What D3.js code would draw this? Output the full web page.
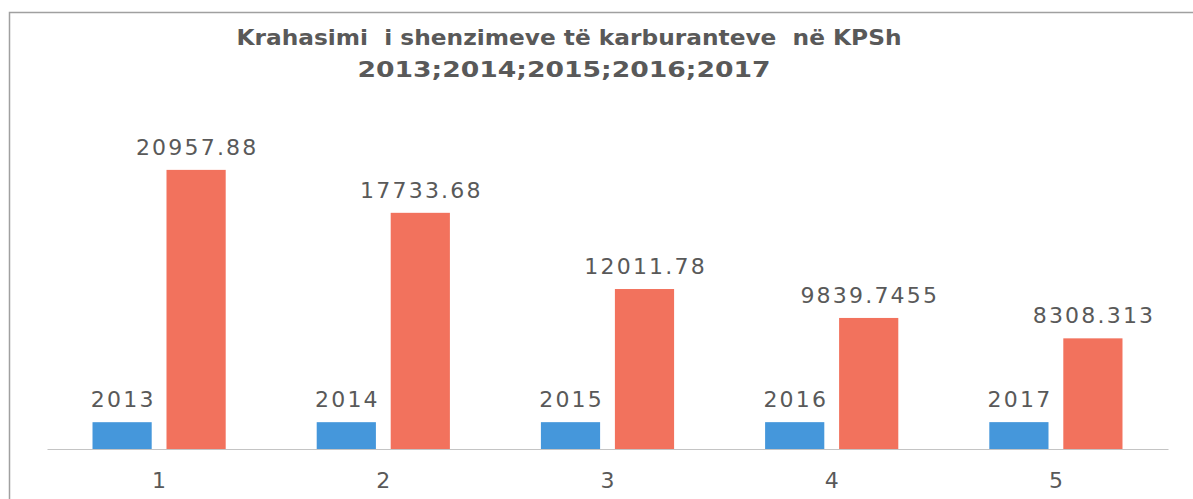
<!DOCTYPE html>
<html>
<head>
<meta charset="utf-8">
<script src="https://cdn.jsdelivr.net/npm/d3@7"></script>
<style>
  body { margin: 0; background: #fff; }
  svg { display: block; }
  text { font-family: "DejaVu Sans", sans-serif; fill: #595959; }
</style>
</head>
<body>
<div id="chart"></div>
<script>
var categories = ["1", "2", "3", "4", "5"]
var yearValues = [2013, 2014, 2015, 2016, 2017]
var fuelValues = [20957.88, 17733.68, 12011.78, 9839.7455, 8308.313]
var fuelLabels = ["20957.88", "17733.68", "12011.78", "9839.7455", "8308.313"]
var titleLines = ["Krahasimi  i shenzimeve të karburanteve  në KPSh", "2013;2014;2015;2016;2017"]
var seriesKeys = ["year", "fuel"]
var seriesColors = {year: "#4597db", fuel: "#f2725d"}

var width = 1193, height = 499
var svg = d3.select("#chart").append("svg").attr("width", width).attr("height", height)

// scanned frame (left + top edges only)
svg.append("path")
    .attr("d", "M9.5," + height + "V12.5H" + width)
    .attr("fill", "none")
    .attr("stroke", "#a0a0a0")
    .attr("stroke-width", 1.5)

// title
var titleWidths = [665, 413]
svg.selectAll(".title")
    .data(titleLines)
    .enter()
    .append("text")
    .attr("class", "title")
    .attr("x", function(d, i) { return i == 0 ? 569 : 564 })
    .attr("y", function(d, i) { return 45 + i * 32 })
    .attr("text-anchor", "middle")
    .attr("font-size", 20.5)
    .attr("font-weight", "bold")
    .attr("textLength", function(d, i) { return titleWidths[i] })
    .attr("lengthAdjust", "spacingAndGlyphs")
    .style("white-space", "pre")
    .text(function(d) { return d })

var baseY = 449
var x = d3.scaleBand().domain(categories).range([47, 1168])
var x1 = d3.scaleBand().domain(seriesKeys).range([0, x.bandwidth()]).paddingInner(0.2).paddingOuter(0.615)
var y = d3.scaleLinear().domain([0, 22000]).range([baseY, 156])

var rows = categories.map(function(c, i) {
    return {cat: c, values: [
        {key: "year", value: yearValues[i], label: String(yearValues[i])},
        {key: "fuel", value: fuelValues[i], label: fuelLabels[i]}
    ]}
})

// axis
var axis = svg.append("g")
    .attr("transform", "translate(0," + baseY + ")")
    .call(d3.axisBottom(x).tickSize(0).tickPadding(23))
axis.select(".domain").attr("stroke", "#c4c4c4").attr("stroke-width", 1.2)
axis.selectAll(".tick text")
    .attr("font-size", 22)
    .attr("font-family", "DejaVu Sans, sans-serif")
    .attr("fill", "#595959")

var groups = svg.selectAll(".group")
    .data(rows)
    .enter()
    .append("g")
    .attr("class", "group")
    .attr("transform", function(d) { return "translate(" + x(d.cat) + ",0)" })

groups.selectAll("rect")
    .data(function(d) { return d.values })
    .enter()
    .append("rect")
    .attr("x", function(d) { return x1(d.key) })
    .attr("y", function(d) { return y(d.value) })
    .attr("width", x1.bandwidth())
    .attr("height", function(d) { return baseY - y(d.value) })
    .attr("fill", function(d) { return seriesColors[d.key] })

var spacing = 2.2
groups.selectAll(".label")
    .data(function(d) { return d.values })
    .enter()
    .append("text")
    .attr("class", "label")
    .attr("x", function(d) { return x1(d.key) + x1.bandwidth() / 2 + spacing / 2 })
    .attr("y", function(d) { return y(d.value) - 15 })
    .attr("text-anchor", "middle")
    .attr("font-size", 22)
    .attr("letter-spacing", spacing)
    .text(function(d) { return d.label })
</script>
</body>
</html>
